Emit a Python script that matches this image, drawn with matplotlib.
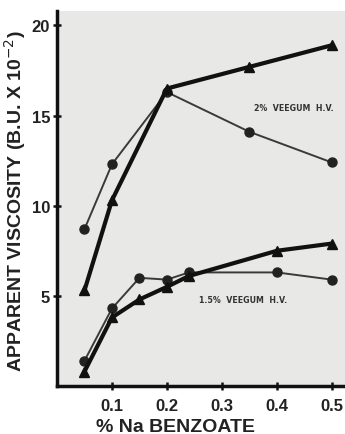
import matplotlib
matplotlib.use("Agg")
import matplotlib.pyplot as plt

# Data
x_2pct_circ = [0.05, 0.10, 0.20, 0.35, 0.50]
y_2pct_circ = [8.7, 12.3, 16.3, 14.1, 12.4]
x_2pct_tri = [0.05, 0.10, 0.20, 0.35, 0.50]
y_2pct_tri = [5.3, 10.3, 16.5, 17.7, 18.9]

x_15_circ = [0.05, 0.10, 0.15, 0.20, 0.24, 0.40, 0.50]
y_15_circ = [1.4, 4.3, 6.0, 5.9, 6.3, 6.3, 5.9]
x_15_tri = [0.05, 0.10, 0.15, 0.20, 0.24, 0.40, 0.50]
y_15_tri = [0.8, 3.8, 4.8, 5.5, 6.1, 7.5, 7.9]

xticks = [0.1, 0.2, 0.3, 0.4, 0.5]
xticklabels = ["0.1", "0.2", "0.3", "0.4", "0.5"]
yticks = [5, 10, 15, 20]
yticklabels = ["5", "10", "15", "20"]

plt.rcParams['font.family'] = ['Liberation Sans', 'DejaVu Sans']

fig = plt.figure(figsize=(3.45, 4.35), dpi=100)
fig.patch.set_facecolor('white')
ax = fig.add_axes([57/345, 48/435, 288/345, 375/435])
ax.set_facecolor('#e8e8e6')

ax.plot(x_2pct_circ, y_2pct_circ, color='#3a3a3a', lw=1.4, marker='o', ms=6.5, mfc='#222222', mec='#222222')
ax.plot(x_2pct_tri, y_2pct_tri, color='#111111', lw=3, marker='^', ms=7.5, mfc='#111111', mec='#111111')
ax.plot(x_15_circ, y_15_circ, color='#3a3a3a', lw=1.4, marker='o', ms=6.5, mfc='#222222', mec='#222222')
ax.plot(x_15_tri, y_15_tri, color='#111111', lw=3, marker='^', ms=7.5, mfc='#111111', mec='#111111')

ax.text(0.43, 15.45, "2%  VEEGUM  H.V.", fontsize=5.7, fontweight='bold', color='#333333',
        ha='center', va='center', family=['DejaVu Sans'])
ax.text(0.338, 4.8, "1.5%  VEEGUM  H.V.", fontsize=5.7, fontweight='bold', color='#333333',
        ha='center', va='center', family=['DejaVu Sans'])

ax.set_xlim(0, 0.524)
ax.set_ylim(0, 20.8)
ax.set_xticks(xticks)
ax.set_xticklabels(xticklabels)
ax.set_yticks(yticks)
ax.set_yticklabels(yticklabels)

for s in ['top', 'right']:
    ax.spines[s].set_visible(False)
for s in ['left', 'bottom']:
    ax.spines[s].set_linewidth(2.5)
    ax.spines[s].set_color('#111111')

ax.tick_params(axis='x', direction='inout', length=6, width=1.8, colors='#111111', labelsize=12, pad=6)
ax.tick_params(axis='y', direction='inout', length=6, width=1.8, colors='#111111', labelsize=12, pad=2)
for lab in ax.get_xticklabels() + ax.get_yticklabels():
    lab.set_fontweight('bold')
    lab.set_color('#222222')

ax.set_xlabel("% Na BENZOATE", fontsize=14, fontweight='bold', color='#222222')
ax.set_ylabel("APPARENT VISCOSITY (B.U. X 10$^{-2}$)", fontsize=14, fontweight='bold', color='#222222')
ax.xaxis.set_label_coords(0.413, -0.086)
ax.yaxis.set_label_coords(-0.1, 0.495)

fig.savefig("out.png", dpi=100)
